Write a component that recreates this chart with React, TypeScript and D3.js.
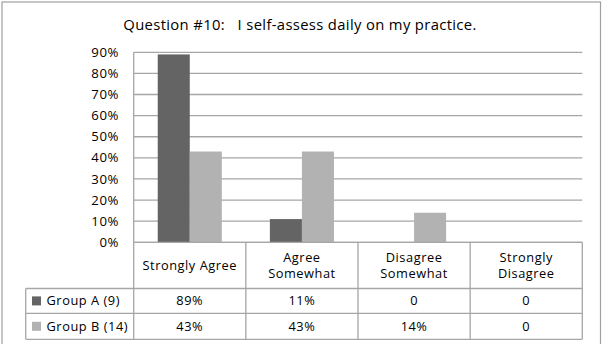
import React from "react";
import * as d3 from "d3";

const title = "Question #10:   I self-assess daily on my practice.";
const categories = ["Strongly Agree", "Agree Somewhat", "Disagree Somewhat", "Strongly Disagree"];
const headerLines = [["Strongly Agree"], ["Agree", "Somewhat"], ["Disagree", "Somewhat"], ["Strongly", "Disagree"]];
const seriesNames = ["Group A (9)", "Group B (14)"];
const groupA = [0.89, 0.11, 0, 0];
const groupB = [0.43, 0.43, 0.14, 0];
const tableA = ["89%", "11%", "0", "0"];
const tableB = ["43%", "43%", "14%", "0"];
const yTicks = [0, 0.1, 0.2, 0.3, 0.4, 0.5, 0.6, 0.7, 0.8, 0.9];
const colors = ["#646464", "#b2b2b2"];

const W = 603, H = 344;
const L = 133.7, R = 582.3, T = 52.3, B = 242.3;
const tableLeft = 25.7;
const rowHeader = 288.5, rowA = 313.3, rowBot = 339.3;
const FONT = "'Open Sans', sans-serif";
const gridColor = "#a6a6a6";
const FS = 12.8;
const LS = 0.55;

export default function App() {
  const x = d3.scaleBand<string>().domain(categories).range([L, R]).paddingInner(0).paddingOuter(0);
  const inner = d3.scaleBand<string>().domain(seriesNames).range([0, x.bandwidth()]).paddingInner(0).paddingOuter(0.75);
  const y = d3.scaleLinear().domain([0, 0.9]).range([B, T]);
  const series = [groupA, groupB];
  const tableRows = [tableA, tableB];
  const rowTops = [rowHeader, rowA];
  const rowBots = [rowA, rowBot];

  return (
    <svg width={W} height={H} style={{ position: "absolute", left: 0, top: 0 }} fontFamily={FONT}>
      <rect x={0} y={0} width={W} height={H} fill="#fff" />
      <rect x={2} y={2} width={598.5} height={360} fill="#fff" stroke="#a0a0a0" strokeWidth={1.2} />
      <text x={300} y={30} textAnchor="middle" fontSize={14.8} letterSpacing={0.35} fill="#000" style={{ whiteSpace: "pre" }}>{title}</text>
      {yTicks.map((t) => (
        <g key={t}>
          <line x1={L} x2={R} y1={y(t)} y2={y(t)} stroke={gridColor} strokeWidth={1.3} />
          <text x={119} y={y(t)} dy="0.35em" textAnchor="end" fontSize={13.2} letterSpacing={LS} fill="#000">{d3.format(".0%")(t)}</text>
        </g>
      ))}
      <line x1={L} x2={L} y1={T} y2={B} stroke={gridColor} strokeWidth={1.3} />
      {series.map((vals, si) =>
        vals.map((v, ci) =>
          v > 0 ? (
            <rect key={`${si}-${ci}`} x={(x(categories[ci]) as number) + (inner(seriesNames[si]) as number)} y={y(v)} width={inner.bandwidth()} height={B - y(v)} fill={colors[si]} />
          ) : null
        )
      )}
      <g stroke={gridColor} strokeWidth={1.3} fill="none">
        <line x1={L} x2={R} y1={B} y2={B} />
        <line x1={tableLeft} x2={R} y1={rowHeader} y2={rowHeader} />
        <line x1={tableLeft} x2={R} y1={rowA} y2={rowA} />
        <line x1={tableLeft} x2={R} y1={rowBot} y2={rowBot} />
        <line x1={tableLeft} x2={tableLeft} y1={rowHeader} y2={rowBot} />
        {categories.map((c) => (
          <line key={c} x1={x(c) as number} x2={x(c) as number} y1={B} y2={rowBot} />
        ))}
        <line x1={R} x2={R} y1={B} y2={rowBot} />
      </g>
      {headerLines.map((lines, ci) => {
        const cx = (x(categories[ci]) as number) + x.bandwidth() / 2;
        const mid = (B + rowHeader) / 2;
        const lh = 16.5;
        return (
          <text key={ci} x={cx} textAnchor="middle" fontSize={FS} letterSpacing={LS} fill="#000">
            {lines.map((ln, li) => (
              <tspan key={li} x={cx} y={mid + (li - (lines.length - 1) / 2) * lh} dy="0.35em">{ln}</tspan>
            ))}
          </text>
        );
      })}
      {tableRows.map((row, ri) => {
        const cy = (rowTops[ri] + rowBots[ri]) / 2;
        return (
          <g key={ri}>
            <rect x={32} y={cy - 4.5} width={9} height={9} fill={colors[ri]} />
            <text x={46.5} y={cy} dy="0.35em" fontSize={FS} letterSpacing={LS} fill="#000">{seriesNames[ri]}</text>
            {row.map((v, ci) => (
              <text key={ci} x={(x(categories[ci]) as number) + x.bandwidth() / 2} y={cy} dy="0.35em" textAnchor="middle" fontSize={FS} letterSpacing={LS} fill="#000">{v}</text>
            ))}
          </g>
        );
      })}
    </svg>
  );
}
